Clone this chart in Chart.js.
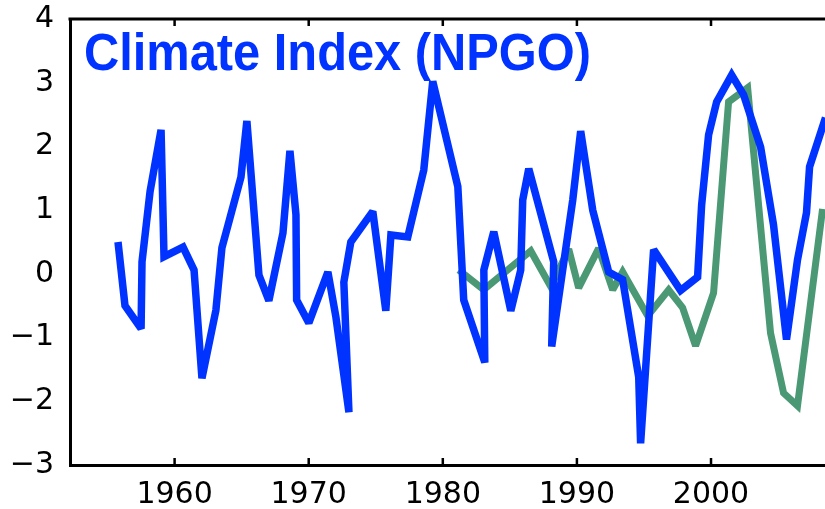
<!DOCTYPE html>
<html>
<head>
<meta charset="utf-8">
<script src="https://cdn.jsdelivr.net/npm/chart.js@4"></script>
<style>
html,body{margin:0;padding:0;background:#fff;}
#wrap{width:825px;height:509px;position:relative;}
</style>
</head>
<body>
<div id="wrap"><canvas id="c" width="825" height="509"></canvas></div>
<script>
// NPGO climate index (blue)
const NPGO_YEARS = [1955.78,1956.30,1957.50,1957.57,1958.17,1958.99,1959.21,1960.63,1961.45,1962.04,
  1963.08,1963.53,1964.95,1965.39,1966.29,1967.03,1968.08,1968.60,1969.05,1969.10,
  1970.01,1971.43,1972.03,1973.00,1972.62,1973.14,1974.78,1975.75,1976.13,1977.39,
  1978.58,1979.25,1981.12,1981.56,1983.13,1983.06,1983.80,1985.07,1985.81,1985.96,
  1986.41,1988.27,1988.12,1989.69,1990.28,1991.18,1992.37,1993.41,1994.61,1994.75,
  1995.72,1997.73,1999.00,1999.30,1999.82,2000.42,2001.54,2002.43,2003.70,2004.66,
  2005.63,2006.45,2007.12,2007.35,2008.54];
const NPGO_VALUES = [0.50,-0.50,-0.86,0.19,1.29,2.26,0.27,0.42,0.06,-1.64,
  -0.57,0.41,1.52,2.40,-0.02,-0.42,0.64,1.93,0.93,-0.41,
  -0.77,0.03,-0.68,-2.17,-0.13,0.50,0.98,-0.58,0.61,0.58,
  1.63,3.02,1.37,-0.41,-1.39,0.06,0.66,-0.58,0.06,1.16,
  1.65,0.19,-1.14,1.16,2.24,1.00,0.03,-0.09,-1.62,-2.66,
  0.38,-0.26,-0.05,1.08,2.18,2.70,3.12,2.81,1.99,0.77,
  -1.03,0.22,0.96,1.68,2.45];
// second series (green)
const GREEN_YEARS = [1981.19,1983.05,1986.56,1988.05,1989.39,1990.13,1991.62,1992.67,1993.41,1995.28,
  1996.84,1997.88,1998.85,2000.19,2001.31,2002.73,2004.44,2005.41,2006.45,2008.32];
const GREEN_VALUES = [0.06,-0.25,0.36,-0.20,0.39,-0.22,0.40,-0.25,0.03,-0.66,
  -0.25,-0.53,-1.13,-0.30,2.70,2.92,-0.93,-1.87,-2.07,1.02];
const X_TICKS = [1960,1970,1980,1990,2000];
const Y_TICKS = [-3,-2,-1,0,1,2,3,4];
const TITLE = 'Climate Index (NPGO)';

const toPts = (xs, ys) => xs.map((x, i) => ({x: x, y: ys[i]}));

const decor = {
  id: 'decor',
  beforeDatasetsDraw(chart) {
    chart.ctx.miterLimit = 2.2;
  },
  afterDraw(chart) {
    const ctx = chart.ctx, a = chart.chartArea, xs = chart.scales.x;
    ctx.save();
    ctx.strokeStyle = '#000';
    ctx.lineWidth = 3;
    ctx.beginPath();
    ctx.moveTo(a.left - 1.5, a.top);
    ctx.lineTo(a.right, a.top);
    ctx.stroke();
    ctx.lineWidth = 2.5;
    X_TICKS.forEach(v => {
      const px = xs.getPixelForValue(v);
      ctx.beginPath();
      ctx.moveTo(px, a.top); ctx.lineTo(px, a.top + 7);
      ctx.moveTo(px, a.bottom); ctx.lineTo(px, a.bottom - 7);
      ctx.stroke();
    });
    // title
    ctx.fillStyle = '#0033ff';
    ctx.textBaseline = 'alphabetic';
    ctx.textAlign = 'left';
    ctx.font = 'bold 51px "Liberation Sans", Arial, sans-serif';
    const w = ctx.measureText(TITLE).width;
    const sx = 507 / w;
    ctx.translate(84, 70);
    ctx.scale(sx, 1.03);
    ctx.fillText(TITLE, 0, 0);
    ctx.restore();
  }
};

new Chart(document.getElementById('c'), {
  type: 'line',
  data: {
    datasets: [
      {data: toPts(NPGO_YEARS, NPGO_VALUES), borderColor: '#0033ff', borderWidth: 7.5,
       pointRadius: 0, tension: 0, borderJoinStyle: 'miter', fill: false},
      {data: toPts(GREEN_YEARS, GREEN_VALUES), borderColor: '#4a9874', borderWidth: 7,
       pointRadius: 0, tension: 0, borderJoinStyle: 'miter', fill: false}
    ]
  },
  options: {
    responsive: false,
    animation: false,
    layout: {padding: {top: 19, left: 0, right: 0, bottom: 0}},
    plugins: {legend: {display: false}, tooltip: {enabled: false}, title: {display: false}},
    scales: {
      x: {
        type: 'linear', position: 'bottom', min: 1952.2, max: 2008.5,
        afterBuildTicks: s => { s.ticks = X_TICKS.map(v => ({value: v})); },
        afterFit: s => { s.height = 44; s.paddingLeft = 0; s.paddingRight = 0; },
        grid: {display: false, drawTicks: false},
        border: {display: true, color: '#000', width: 3},
        ticks: {color: '#000', padding: 12, maxRotation: 0, autoSkip: false,
                font: {family: '"DejaVu Sans", sans-serif', size: 30},
                callback: v => String(v)}
      },
      y: {
        min: -3, max: 4,
        afterBuildTicks: s => { s.ticks = Y_TICKS.map(v => ({value: v})); },
        afterFit: s => { s.width = 70; s.paddingTop = 0; s.paddingBottom = 0; },
        grid: {display: false, drawTicks: false},
        border: {display: true, color: '#000', width: 3},
        ticks: {color: '#000', padding: 16,
                font: {family: '"DejaVu Sans", sans-serif', size: 30},
                callback: v => v < 0 ? '\u2212' + Math.abs(v) : String(v)}
      }
    }
  },
  plugins: [decor]
});
</script>
</body>
</html>
